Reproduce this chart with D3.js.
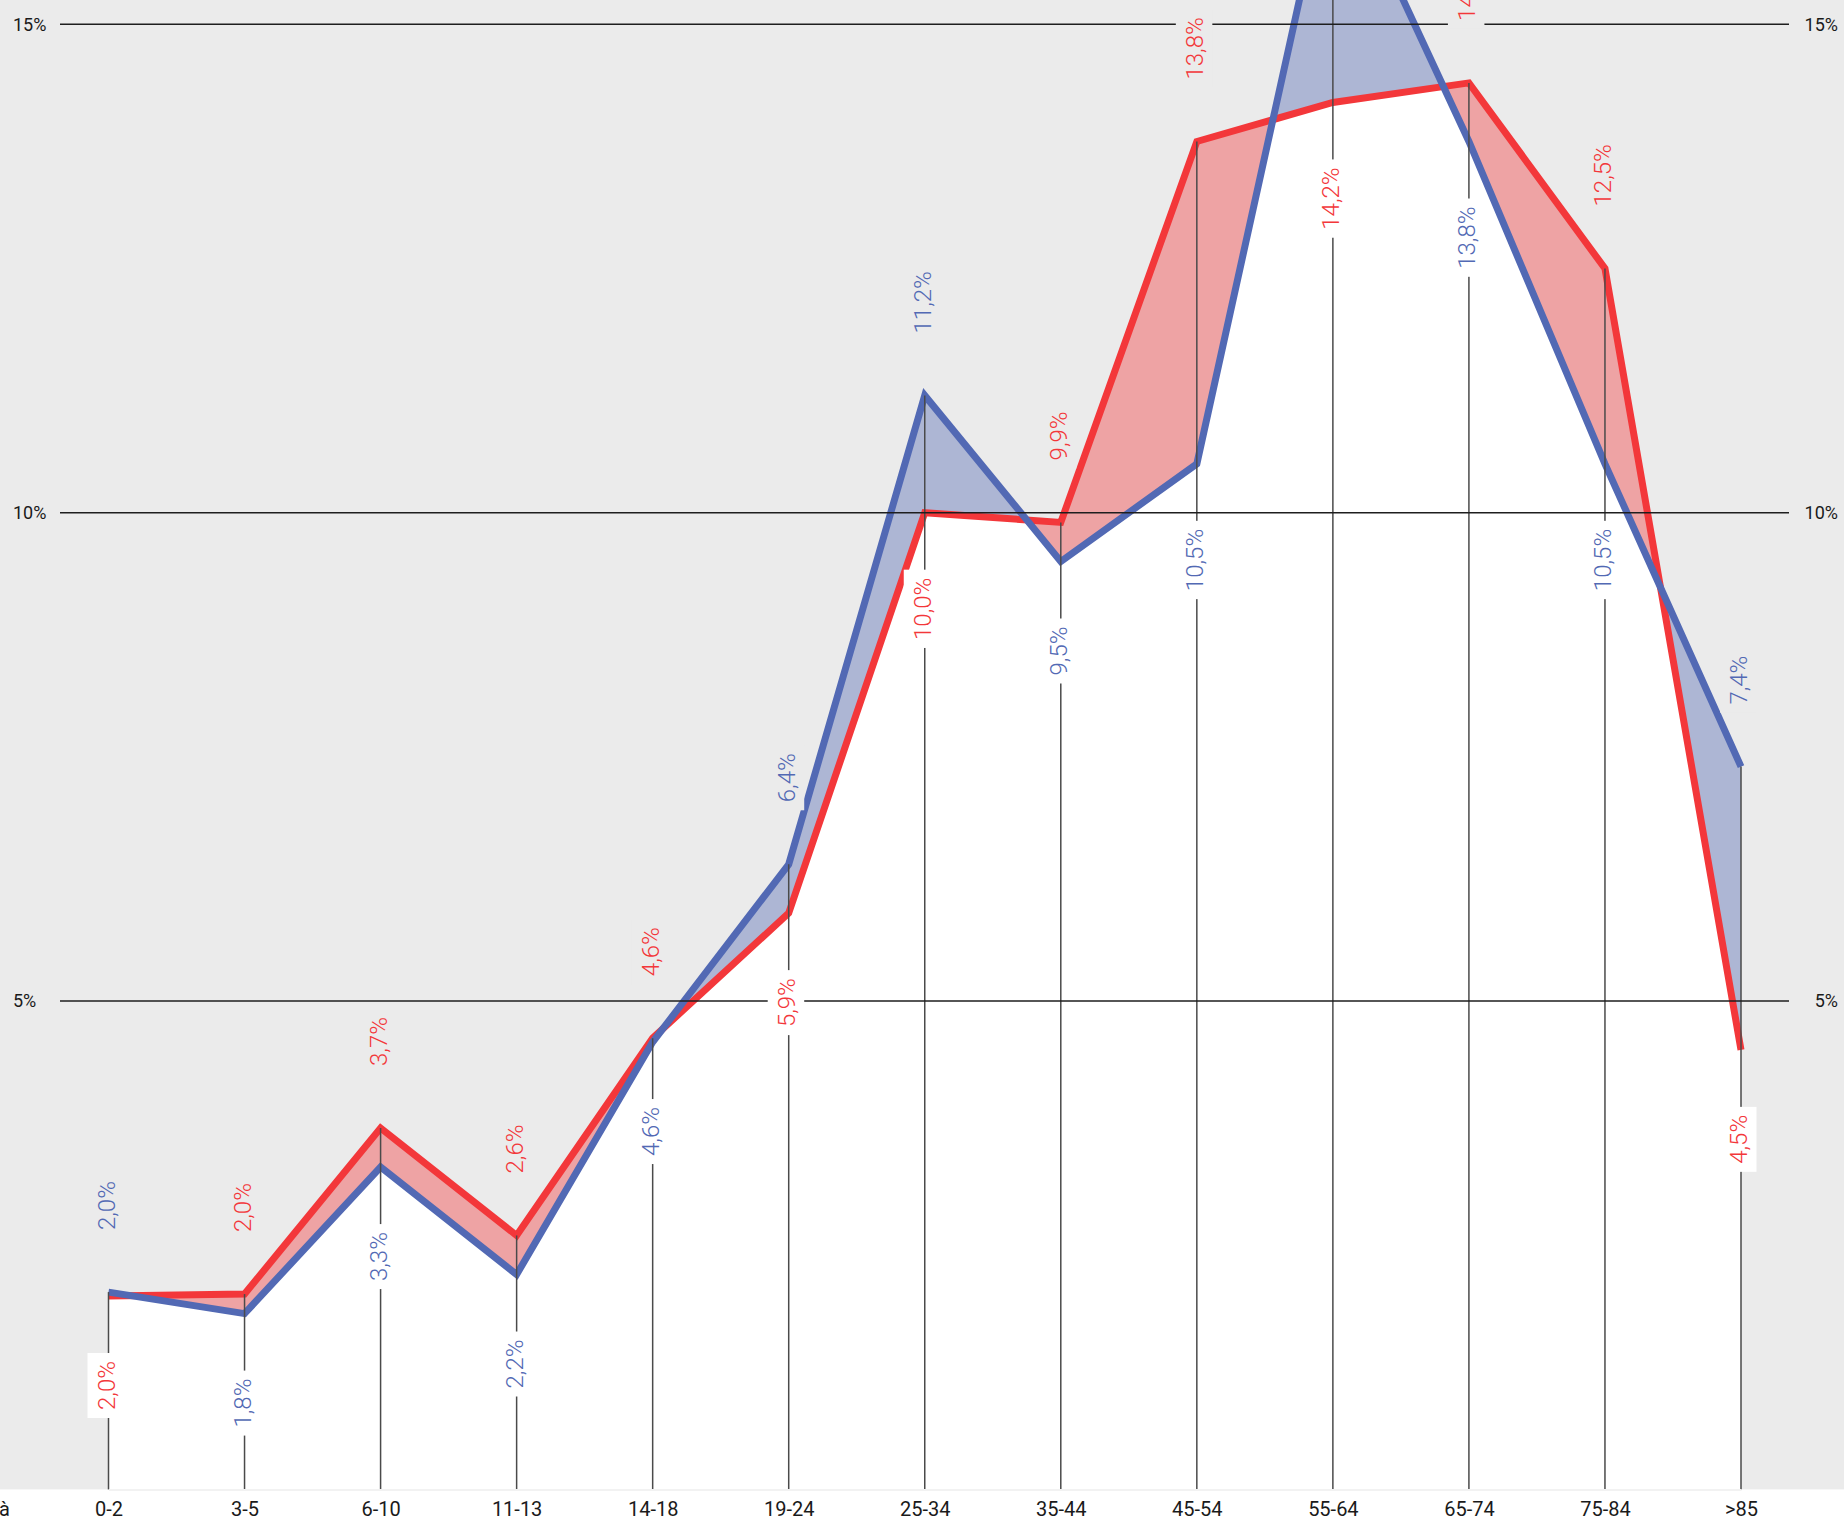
<!DOCTYPE html>
<html>
<head>
<meta charset="utf-8">
<script src="https://cdn.jsdelivr.net/npm/d3@7"></script>
<style>
  html, body { margin: 0; padding: 0; background: #ffffff; }
  svg { display: block; font-family: Roboto, "Noto Sans", sans-serif; }
</style>
</head>
<body>
<svg id="chart" width="1844" height="1520"></svg>
<script>
// ---- data ----
const categories = ["0-2","3-5","6-10","11-13","14-18","19-24","25-34","35-44","45-54","55-64","65-74","75-84",">85"];
const redValues  = [1.98, 2.0, 3.7, 2.6, 4.62, 5.9, 10.0, 9.9, 13.8, 14.2, 14.4, 12.5, 4.5];
const blueValues = [2.02, 1.8, 3.3, 2.2, 4.58, 6.4, 11.2, 9.5, 10.5, 16.8, 13.8, 10.5, 7.4];
const yTicks = [5, 10, 15];
const yTickLabels = ["5%", "10%", "15%"];
const axisStub = "à";

// ---- style ----
const W = 1844, H = 1520;
const C = {
  bg: "#ebebeb", red: "#f3373a", blue: "#5269b4",
  redFill: "#eea3a4", blueFill: "#adb6d4", grid: "#1e1e1e", vline: "#4a4a4a"
};

const svg = d3.select("#chart");
const x = d3.scalePoint().domain(categories).range([108.5, 1741]);
const y = d3.scaleLinear().domain([0, 15]).range([1489.4, 24.3]);
const bottom = y(0), topLim = -600;

const rows = categories.map((c, i) => ({ c, r: redValues[i], b: blueValues[i] }));

// background
svg.append("rect").attr("x", 0).attr("y", 0).attr("width", W).attr("height", bottom).attr("fill", C.bg);

const defs = svg.append("defs");
const mkArea = (y0f, y1f) => d3.area().x(d => x(d.c)).y0(y0f).y1(y1f);
defs.append("clipPath").attr("id", "belowBlue").append("path").attr("d", mkArea(() => bottom, d => y(d.b))(rows));
defs.append("clipPath").attr("id", "aboveBlue").append("path").attr("d", mkArea(() => topLim, d => y(d.b))(rows));
defs.append("clipPath").attr("id", "aboveRed").append("path").attr("d", mkArea(() => topLim, d => y(d.r))(rows));

const underRed = mkArea(() => bottom, d => y(d.r))(rows);
const underBlue = mkArea(() => bottom, d => y(d.b))(rows);

svg.append("path").attr("d", underRed).attr("fill", "#ffffff").attr("clip-path", "url(#belowBlue)");
svg.append("path").attr("d", underRed).attr("fill", C.redFill).attr("clip-path", "url(#aboveBlue)");
svg.append("path").attr("d", underBlue).attr("fill", C.blueFill).attr("clip-path", "url(#aboveRed)");

// lines
const lineR = d3.line().x(d => x(d.c)).y(d => y(d.r));
const lineB = d3.line().x(d => x(d.c)).y(d => y(d.b));
svg.append("path").attr("d", lineR(rows)).attr("fill", "none").attr("stroke", C.red)
  .attr("stroke-width", 7).attr("stroke-linejoin", "miter").attr("stroke-miterlimit", 20);
svg.append("path").attr("d", lineB(rows)).attr("fill", "none").attr("stroke", C.blue)
  .attr("stroke-width", 7).attr("stroke-linejoin", "miter").attr("stroke-miterlimit", 20);

// vertical drop lines
svg.append("g").selectAll("line").data(rows).join("line")
  .attr("x1", d => x(d.c)).attr("x2", d => x(d.c))
  .attr("y1", bottom).attr("y2", d => y(Math.max(d.r, d.b)))
  .attr("stroke", C.vline).attr("stroke-width", 1.5);

// gridlines
svg.append("g").selectAll("line").data(yTicks).join("line")
  .attr("x1", 60).attr("x2", 1789).attr("y1", d => y(d)).attr("y2", d => y(d))
  .attr("stroke", C.grid).attr("stroke-width", 1.5);

// y labels left/right
svg.append("g").selectAll("text").data(yTicks).join("text")
  .attr("x", 13).attr("y", d => y(d)).attr("dy", "0.35em")
  .attr("font-size", 18).attr("fill", "#1a1a1a").text((d, i) => yTickLabels[i]);
svg.append("g").selectAll("text").data(yTicks).join("text")
  .attr("x", 1838).attr("y", d => y(d)).attr("dy", "0.35em").attr("text-anchor", "end")
  .attr("font-size", 18).attr("fill", "#1a1a1a").text((d, i) => yTickLabels[i]);

// x axis
const xAxis = d3.axisBottom(x).tickSize(0).tickPadding(0);
const gx = svg.append("g").attr("transform", `translate(0,${bottom})`).call(xAxis);
gx.select(".domain").attr("stroke", "#f2f2f2").attr("stroke-width", 2);
gx.selectAll("text").attr("font-size", 20).attr("fill", "#1a1a1a")
  .attr("font-family", "Roboto, sans-serif").attr("y", 27).attr("dy", 0);
svg.append("text").attr("x", -1).attr("y", bottom + 27).attr("font-size", 20)
  .attr("fill", "#1a1a1a").text(axisStub);

// value labels
const fmt = v => d3.format(".1f")(v).replace(".", ",") + "%";
const labels = [];
rows.forEach(d => {
  const redTop = d.r >= d.b;
  labels.push({ c: d.c, v: redTop ? d.r : d.b, col: redTop ? C.red : C.blue, pos: "top" });
  labels.push({ c: d.c, v: redTop ? d.b : d.r, col: redTop ? C.blue : C.red, pos: "bottom" });
});
const lg = svg.append("g").selectAll("g").data(labels).join("g")
  .attr("transform", d => d.pos === "top"
    ? `translate(${x(d.c) + 6},${y(d.v) - 62}) rotate(-90)`
    : `translate(${x(d.c) + 6},${y(d.v) + 65}) rotate(-90)`);
lg.each(function(d) {
  const g = d3.select(this);
  const rect = g.append("rect").attr("fill", d.pos === "top" ? C.bg : "#ffffff");
  const t = g.append("text").attr("font-size", 24).attr("font-weight", 300).attr("fill", d.col)
    .attr("text-anchor", d.pos === "top" ? "start" : "end").text(fmt(d.v));
  const bb = t.node().getBBox();
  rect.attr("x", bb.x - 8).attr("width", bb.width + 16).attr("y", -27).attr("height", 36.5);
});
</script>
</body>
</html>
